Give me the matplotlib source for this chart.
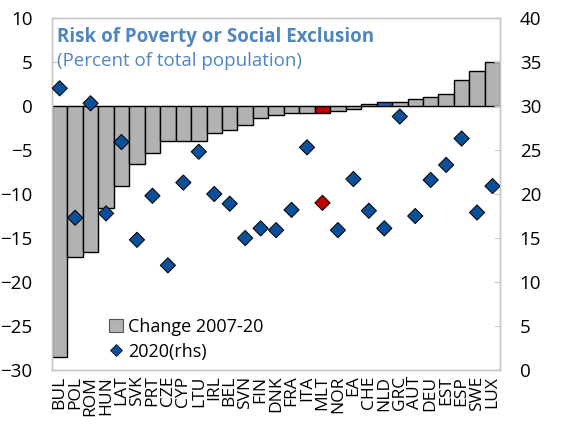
import matplotlib
matplotlib.use("Agg")
import matplotlib.pyplot as plt
from matplotlib.lines import Line2D
from matplotlib.patches import Patch
import numpy as np

plt.rcParams['font.family'] = ['Open Sans', 'DejaVu Sans']

countries = ["BUL", "POL", "ROM", "HUN", "LAT", "SVK", "PRT", "CZE", "CYP", "LTU",
             "IRL", "BEL", "SVN", "FIN", "DNK", "FRA", "ITA", "MLT", "NOR", "EA",
             "CHE", "NLD", "GRC", "AUT", "DEU", "EST", "ESP", "SWE", "LUX"]

# change in share at risk of poverty or social exclusion, 2007-20 (pp, lhs)
change = [-28.5, -17.1, -16.6, -11.6, -9.1, -6.6, -5.3, -4.0, -4.0, -4.0,
          -3.1, -2.7, -2.2, -1.4, -1.0, -0.8, -0.85, -0.75, -0.55, -0.3,
          0.2, 0.4, 0.5, 0.8, 1.0, 1.3, 3.0, 4.0, 5.0]

# level in 2020 (percent, rhs)
level_2020 = [32.0, 17.3, 30.3, 17.8, 25.9, 14.8, 19.8, 11.9, 21.3, 24.8,
              20.0, 18.9, 15.0, 16.1, 15.9, 18.2, 25.3, 19.0, 15.9, 21.7,
              18.1, 16.1, 28.8, 17.5, 21.6, 23.3, 26.3, 17.9, 20.9]

highlight = {"MLT": "#c00000", "NLD": "#1f5fa8"}

gray = "#b2b2b2"
navy = "#0b4f98"
title_col = "#4f86bf"
spine_col = "#c8c8c8"

x = np.arange(len(countries))
bar_cols = [highlight.get(c, gray) for c in countries]
dot_cols = ["#c00000" if c == "MLT" else navy for c in countries]

fig = plt.figure(figsize=(5.77, 4.25), dpi=100)
ax = fig.add_axes([0.090, 0.129, 0.777, 0.829])
ax2 = ax.twinx()

ax.bar(x, change, width=1.0, color=bar_cols, edgecolor="black", linewidth=1.0, zorder=2)
ax.axhline(0, color=spine_col, linewidth=1, zorder=1)

ax2.scatter(x, level_2020, marker="D", s=60, c=dot_cols, edgecolors="black",
            linewidths=0.7, zorder=3)

ax.set_xlim(-0.5, len(countries) - 0.5)
ax.set_ylim(-30, 10)
ax.set_yticks(np.arange(-30, 11, 5))
ax2.set_ylim(0, 40)
ax2.set_yticks(np.arange(0, 41, 5))

# country codes sit edge to edge, as in the original
ax.set_xticks(x)
ax.set_xticklabels(countries, rotation=90, fontsize=12.5)
ax.tick_params(axis="x", length=0, pad=4)
ax.tick_params(axis="y", direction="in", length=4, color=spine_col, labelsize=13.5, pad=14)
ax2.tick_params(axis="y", direction="in", length=4, color=spine_col, labelsize=13.5, pad=14)

for a in (ax, ax2):
    for s in a.spines.values():
        s.set_color(spine_col)
        s.set_linewidth(1)

ax.text(0.012, 0.975, "Risk of Poverty or Social Exclusion", transform=ax.transAxes,
        fontsize=13.5, fontweight="bold", color=title_col, va="top", ha="left")
ax.text(0.012, 0.903, "(Percent of total population)", transform=ax.transAxes,
        fontsize=13.5, color=title_col, va="top", ha="left")

handles = [Patch(facecolor=gray, edgecolor="#555555", linewidth=0.8),
           Line2D([], [], marker="D", linestyle="none", markersize=6,
                  markerfacecolor=navy, markeredgecolor="black", markeredgewidth=0.5)]
ax2.legend(handles, ["Change 2007-20", "2020(rhs)"], loc="lower left",
           bbox_to_anchor=(0.09, -0.02), frameon=False, fontsize=13,
           handlelength=0.8, handleheight=0.8, handletextpad=0.3, labelspacing=0.4)

fig.savefig("out.png", dpi=100)
